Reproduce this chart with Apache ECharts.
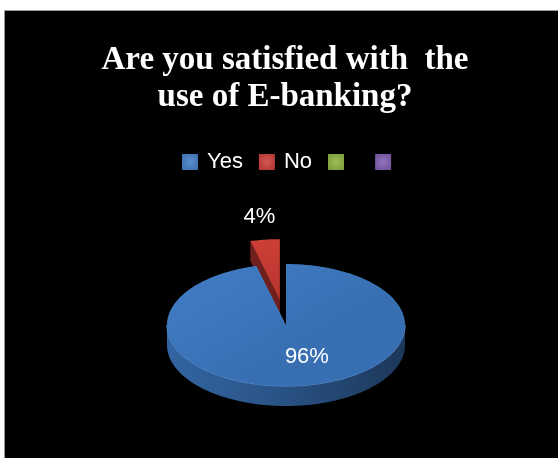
<!DOCTYPE html>
<html>
<head>
<meta charset="utf-8">
<script src="https://cdn.jsdelivr.net/npm/echarts@6/dist/echarts.min.js"></script>
<style>
  html, body { margin: 0; padding: 0; background: #fff; }
  #chart { width: 558px; height: 458px; }
</style>
</head>
<body>
<div id="chart"></div>
<script>
// Survey answers
const categories = ['Yes', 'No', ' ', '  '];
const values = [96, 4, 0, 0];
const colors = ['#3E7BC6', '#CC3B33', '#8CB43C', '#7D5BB0'];
const explode = [0, 0.41, 0, 0];

// Pie geometry (tilted disc)
const CX = 286, CY = 325, RX = 119, RY = 61, DEPTH = 20;

const total = values.reduce((a, b) => a + b, 0);
const rad = d => d * Math.PI / 180;

function shade(hex, f) {
  const n = parseInt(hex.slice(1), 16);
  let r = (n >> 16) & 255, g = (n >> 8) & 255, b = n & 255;
  const m = c => Math.max(0, Math.min(255, Math.round(f >= 0 ? c + (255 - c) * f : c * (1 + f))));
  return 'rgb(' + m(r) + ',' + m(g) + ',' + m(b) + ')';
}

function makeRender(i) {
  return function (params, api) {
    const v = api.value(0);
    if (!v) return null;
    let before = 0;
    for (let k = 0; k < i; k++) before += values[k];
    const a0 = before / total * 360;
    const a1 = a0 + v / total * 360;
    const mid = (a0 + a1) / 2;
    const e = explode[i];
    const ox = RX * Math.sin(rad(mid)) * e;
    const oy = -RY * Math.cos(rad(mid)) * e;
    const pt = (t, dz) => [CX + ox + RX * Math.sin(rad(t)), CY + oy - RY * Math.cos(rad(t)) + (dz || 0)];
    const c = [CX + ox, CY + oy];
    const base = colors[i];
    const children = [];

    // radial cut faces that turn toward the viewer
    if (Math.sin(rad(a0)) < -1e-6) {
      const p = pt(a0), q = pt(a0, DEPTH);
      children.push({ type: 'polygon', shape: { points: [c, p, q, [c[0], c[1] + DEPTH]] },
        style: { fill: shade(base, -0.45) } });
    }
    if (Math.sin(rad(a1)) > 1e-6) {
      const p = pt(a1), q = pt(a1, DEPTH);
      children.push({ type: 'polygon', shape: { points: [c, p, q, [c[0], c[1] + DEPTH]] },
        style: { fill: shade(base, -0.45) } });
    }

    // outer wall on the front half
    const w0 = Math.max(a0, 90), w1 = Math.min(a1, 270);
    if (w0 < w1) {
      const top = [], bot = [];
      for (let t = w0; t <= w1 + 1e-9; t += 1) { top.push(pt(t)); bot.push(pt(t, DEPTH)); }
      top.push(pt(w1)); bot.push(pt(w1, DEPTH));
      children.push({ type: 'polygon', shape: { points: top.concat(bot.reverse()) },
        style: { fill: { type: 'linear', x: 0, y: 0, x2: 1, y2: 0, colorStops: [
          { offset: 0, color: shade(base, -0.18) },
          { offset: 0.45, color: shade(base, -0.32) },
          { offset: 1, color: shade(base, -0.55) }] } } });
      const rim = [];
      for (let t = w0; t <= w1 + 1e-9; t += 1) rim.push(pt(t));
      children.push({ type: 'polyline', shape: { points: rim },
        style: { stroke: shade(base, 0.12), lineWidth: 1.2, fill: null } });
    }

    // top face
    const face = [c];
    for (let t = a0; t <= a1 + 1e-9; t += 1) face.push(pt(t));
    face.push(pt(a1));
    children.push({ type: 'polygon', shape: { points: face },
      style: { fill: { type: 'linear', x: 0, y: 0, x2: 0.3, y2: 1, colorStops: [
        { offset: 0, color: shade(base, 0.02) },
        { offset: 1, color: shade(base, -0.1) }] } } });

    // percentage label
    const pct = Math.round(v / total * 100) + '%';
    const lf = e > 0 ? 1.38 : 0.53;
    const lx = CX + ox + RX * Math.sin(rad(mid)) * lf + (e > 0 ? 0 : 13);
    const ly = CY + oy - RY * Math.cos(rad(mid)) * lf;
    children.push({ type: 'text', style: { text: pct, x: lx, y: ly, fill: '#fff',
      font: '22px "Liberation Sans", sans-serif', align: 'center', verticalAlign: 'middle' } });

    return { type: 'group', children: children };
  };
}

function legendFill(hex) {
  return { type: 'radial', x: 0.5, y: 0.5, r: 0.75, colorStops: [
    { offset: 0, color: shade(hex, 0.15) },
    { offset: 1, color: shade(hex, -0.15) }] };
}

const chart = echarts.init(document.getElementById('chart'));
chart.setOption({
  backgroundColor: '#ffffff',
  animation: false,
  graphic: [{
    type: 'rect', z: -10, silent: true,
    shape: { x: 4.5, y: 10.5, width: 560, height: 460 },
    style: { fill: '#000', stroke: '#9a9a9a', lineWidth: 1 }
  }],
  title: {
    text: 'Are you satisfied with  the\nuse of E-banking?',
    left: 280, top: 37, textAlign: 'center',
    textStyle: { color: '#fff', fontFamily: '"Liberation Serif", serif', fontWeight: 'bold',
      fontSize: 33, lineHeight: 37 }
  },
  legend: {
    data: categories.map((n, i) => ({ name: n, itemStyle: { color: legendFill(colors[i]) } })),
    left: 182, top: 151, padding: 0, icon: 'rect',
    itemWidth: 16, itemHeight: 16, itemGap: 16, selectedMode: false,
    textStyle: { color: '#fff', fontSize: 22, fontFamily: '"Liberation Sans", sans-serif', padding: [0, 0, 0, 4] }
  },
  series: categories.map((n, i) => ({
    type: 'custom', name: n, coordinateSystem: 'none',
    z: i === 0 ? 3 : 2, silent: true,
    itemStyle: { color: colors[i] },
    renderItem: makeRender(i),
    data: [[values[i]]]
  }))
});
</script>
</body>
</html>
